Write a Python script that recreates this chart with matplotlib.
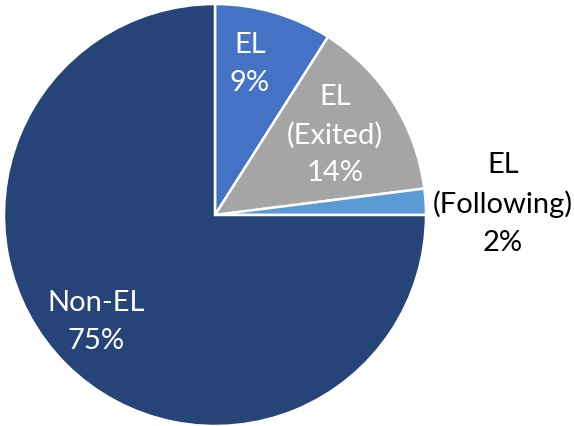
import matplotlib
matplotlib.use("Agg")
import matplotlib.pyplot as plt

labels = ["EL", "EL\n(Exited)", "EL\n(Following)", "Non-EL"]
values = [9, 14, 2, 75]
colors = ["#4472C4", "#A5A5A5", "#5B9BD5", "#264478"]
text_colors = ["white", "white", "black", "white"]

W, H = 574, 426
cx, cy, R = 215, 215, 211  # pixel centre/radius
fig = plt.figure(figsize=(W / 100, H / 100), dpi=100)
ax = fig.add_axes([(cx - R) / W, (H - cy - R) / H, 2 * R / W, 2 * R / H])
wedges, _ = ax.pie(values, colors=colors, startangle=90, counterclock=False,
                   radius=1, wedgeprops=dict(edgecolor="white", linewidth=1.8))
ax.set_xlim(-1, 1)
ax.set_ylim(-1, 1)
ax.set_aspect("equal")
ax.axis("off")

# label centres (pixels)
pos = [(250, 64), (335, 135), (503, 204), (96, 322)]
for lab, v, (px, py), tc in zip(labels, values, pos, text_colors):
    ax.text((px - cx) / R, (cy - py) / R, f"{lab}\n{v}%", ha="center", va="center",
            fontsize=21, color=tc, family="Lato", linespacing=1.55)

fig.savefig("out.png", dpi=100)
